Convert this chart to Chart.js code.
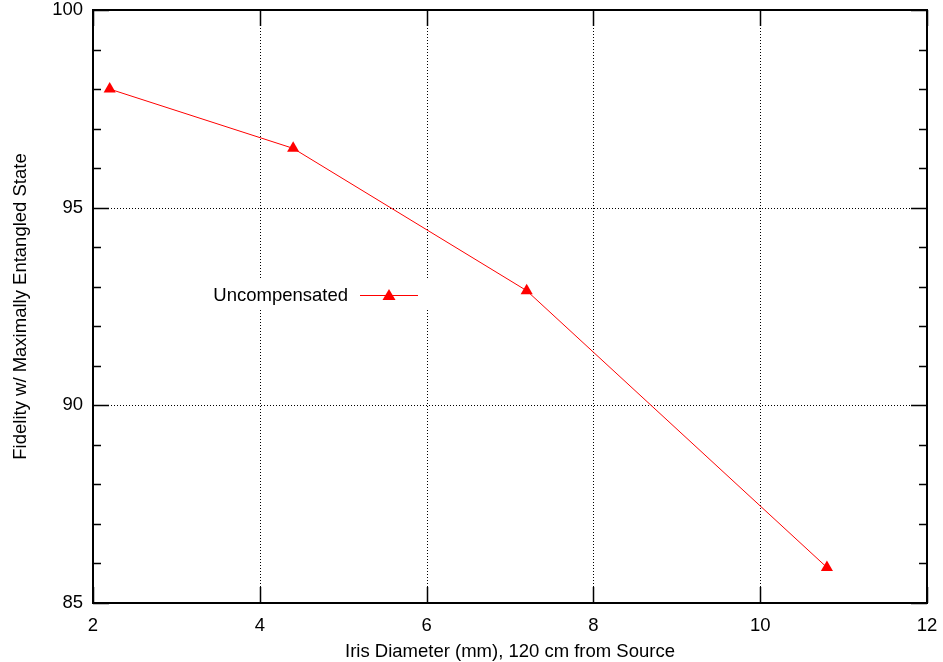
<!DOCTYPE html>
<html>
<head>
<meta charset="utf-8">
<script src="https://cdn.jsdelivr.net/npm/chart.js@4.4.1/dist/chart.umd.min.js"></script>
<style>
html,body{margin:0;padding:0;background:#fff;}
#wrap{width:943px;height:662px;position:relative;}
</style>
</head>
<body>
<div id="wrap"><canvas id="c" width="943" height="662"></canvas></div>
<script>
const irisDiameter = [2.2, 4.4, 7.2, 10.8];
const fidelity = [98, 96.5, 92.9, 85.9];
const seriesName = 'Uncompensated';
const xTitle = 'Iris Diameter (mm), 120 cm from Source';
const yTitle = 'Fidelity w/ Maximally Entangled State';
const xTicks = [2, 4, 6, 8, 10, 12];
const yTicks = [85, 90, 95, 100];

const FONT = '"Liberation Sans", Arial, Helvetica, sans-serif';
const FSIZE = 18.5;

const gnuplotStyle = {
  id: 'gnuplotStyle',
  beforeDatasetsDraw(chart) {
    const {ctx, chartArea: a, scales: {x, y}} = chart;
    ctx.save();
    // dotted grid
    ctx.strokeStyle = '#000';
    ctx.lineWidth = 1;
    ctx.setLineDash([1, 2]);
    xTicks.slice(1, -1).forEach(v => {
      const px = Math.round(x.getPixelForValue(v)) + 0.5;
      ctx.beginPath(); ctx.moveTo(px, a.top); ctx.lineTo(px, a.bottom); ctx.stroke();
    });
    yTicks.slice(1, -1).forEach(v => {
      const py = Math.round(y.getPixelForValue(v)) + 0.5;
      ctx.beginPath(); ctx.moveTo(a.left, py); ctx.lineTo(a.right, py); ctx.stroke();
    });
    ctx.setLineDash([]);
    // ticks
    ctx.lineWidth = 1.5;
    const major = 16, minor = 8;
    xTicks.forEach(v => {
      const px = Math.round(x.getPixelForValue(v)) + 0.5;
      ctx.beginPath();
      ctx.moveTo(px, a.bottom); ctx.lineTo(px, a.bottom - major);
      ctx.moveTo(px, a.top); ctx.lineTo(px, a.top + major);
      ctx.stroke();
    });
    for (let v = yTicks[0]; v <= yTicks[yTicks.length - 1]; v += 1) {
      const len = (v % 5 === 0) ? major : minor;
      const py = Math.round(y.getPixelForValue(v)) + 0.5;
      ctx.beginPath();
      ctx.moveTo(a.left, py); ctx.lineTo(a.left + len, py);
      ctx.moveTo(a.right, py); ctx.lineTo(a.right - len, py);
      ctx.stroke();
    }
    // border
    ctx.lineWidth = 2;
    ctx.strokeRect(a.left, a.top, a.right - a.left, a.bottom - a.top);
    // titles
    ctx.fillStyle = '#000';
    ctx.font = FSIZE + 'px ' + FONT;
    ctx.textAlign = 'center';
    ctx.textBaseline = 'alphabetic';
    ctx.fillText(xTitle, (a.left + a.right) / 2, 657);
    ctx.translate(26, (a.top + a.bottom) / 2);
    ctx.rotate(-Math.PI / 2);
    ctx.fillText(yTitle, 0, 0);
    ctx.restore();
  },
  afterDatasetsDraw(chart) {
    const {ctx, chartArea: a} = chart;
    ctx.save();
    const bx = a.left + 112, by = a.top + 270, bw = 226, bh = 30;
    ctx.fillStyle = '#fff';
    ctx.fillRect(bx, by, bw, bh);
    const cy = by + 15;
    ctx.fillStyle = '#000';
    ctx.font = FSIZE + 'px ' + FONT;
    ctx.textAlign = 'right';
    ctx.textBaseline = 'middle';
    ctx.fillText(seriesName, bx + 143, cy + 1);
    ctx.strokeStyle = '#ff0000';
    ctx.lineWidth = 1;
    ctx.beginPath(); ctx.moveTo(bx + 155, cy + 0.5); ctx.lineTo(bx + 213, cy + 0.5); ctx.stroke();
    ctx.fillStyle = '#ff0000';
    const tx = bx + 184;
    ctx.beginPath();
    ctx.moveTo(tx, cy - 6); ctx.lineTo(tx + 6.5, cy + 5); ctx.lineTo(tx - 6.5, cy + 5); ctx.closePath();
    ctx.fill();
    ctx.restore();
  }
};

function noPad(s) { s.paddingTop = 0; s.paddingBottom = 0; s.paddingLeft = 0; s.paddingRight = 0; }

new Chart(document.getElementById('c'), {
  type: 'scatter',
  data: {
    datasets: [{
      label: seriesName,
      data: irisDiameter.map((v, i) => ({x: v, y: fidelity[i]})),
      showLine: true,
      borderColor: '#ff0000',
      backgroundColor: '#ff0000',
      borderWidth: 1,
      pointStyle: 'triangle',
      pointRadius: 7,
      pointBorderWidth: 0,
      tension: 0
    }]
  },
  options: {
    responsive: false,
    animation: false,
    layout: {padding: {top: 10, right: 16, left: 0, bottom: 0}},
    plugins: {legend: {display: false}, tooltip: {enabled: false}},
    scales: {
      x: {
        type: 'linear', min: 2, max: 12,
        afterBuildTicks: s => { s.ticks = xTicks.map(v => ({value: v})); },
        grid: {display: false, drawTicks: false},
        border: {display: false},
        ticks: {color: '#000', font: {size: FSIZE, family: FONT}, padding: 12, maxRotation: 0},
        afterFit: s => { s.height = 59; noPad(s); }
      },
      y: {
        type: 'linear', min: 85, max: 100,
        afterBuildTicks: s => { s.ticks = yTicks.map(v => ({value: v})); },
        grid: {display: false, drawTicks: false},
        border: {display: false},
        ticks: {color: '#000', font: {size: FSIZE, family: FONT}, padding: 10},
        afterFit: s => { s.width = 93; noPad(s); }
      }
    }
  },
  plugins: [gnuplotStyle]
});
</script>
</body>
</html>
